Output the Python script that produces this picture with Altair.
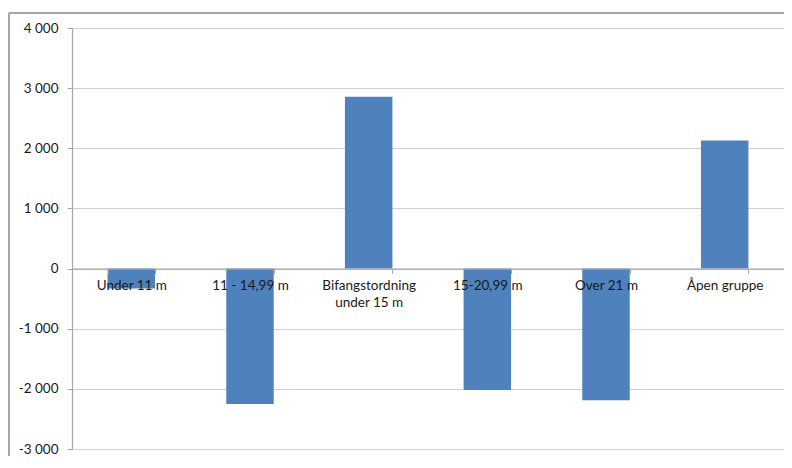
import altair as alt
import pandas as pd

categories = ["Under 11 m", "11 - 14,99 m", "Bifangstordning under 15 m",
              "15-20,99 m", "Over 21 m", "Åpen gruppe"]
values = [-330, -2250, 2855, -2020, -2190, 2130]

y_domain = [-3000, 4000]
y_ticks = [-3000, -2000, -1000, 0, 1000, 2000, 3000, 4000]

W, H = 712, 421
FONT = "Lato"

df = pd.DataFrame({"kategori": categories, "verdi": values})

zero_offset = -(0 - y_domain[0]) / (y_domain[1] - y_domain[0]) * H

label_expr = ("datum.label == 'Bifangstordning under 15 m' ? "
              "['Bifangstordning', 'under 15 m'] : datum.label")
y_label_expr = ("(datum.value < 0 ? '-' : '') + "
                "replace(format(abs(datum.value), ','), ',', ' ')")

bars = alt.Chart(df).mark_bar(color="#4F81BD").encode(
    x=alt.X("kategori:N", sort=None, title=None,
            scale=alt.Scale(paddingInner=0.6, paddingOuter=0.3),
            axis=alt.Axis(orient="bottom", offset=zero_offset, labelAngle=0,
                          labelExpr=label_expr, tickBand="extent", grid=False,
                          tickSize=5, tickColor="#a6a6a6", domainColor="#a6a6a6",
                          domainWidth=1.2, labelPadding=5, labelFontSize=13.5,
                          labelColor="#1a1a1a", labelFont=FONT, labelLineHeight=17,
                          labelBaseline="top", zindex=2, labelLimit=200)),
    y=alt.Y("verdi:Q", title=None,
            scale=alt.Scale(domain=y_domain, nice=False),
            axis=alt.Axis(values=y_ticks, labelExpr=y_label_expr, grid=True,
                          gridColor="#d0d0d0", gridWidth=1.2, tickSize=5,
                          tickColor="#a6a6a6", domainColor="#a6a6a6",
                          domainWidth=1.2, labelPadding=9, labelFontSize=13.5,
                          labelColor="#1a1a1a", labelFont=FONT)),
)

frame_left = alt.Chart(df).mark_rule(color="#a6a6a6", strokeWidth=1.5).encode(
    x=alt.value(-63), y=alt.value(-15), y2=alt.value(H + 40))
frame_top = alt.Chart(df).mark_rule(color="#a6a6a6", strokeWidth=1.5).encode(
    x=alt.value(-63), x2=alt.value(W + 40), y=alt.value(-15))

chart = alt.layer(bars, frame_left, frame_top).properties(
    width=W, height=H,
    autosize=alt.AutoSizeParams(type="none"),
    padding={"left": 64, "top": 20, "right": 0, "bottom": 7},
).configure_view(strokeWidth=0).configure(background="white")

chart.save("out.html", embed_options={"renderer": "svg", "actions": False})
